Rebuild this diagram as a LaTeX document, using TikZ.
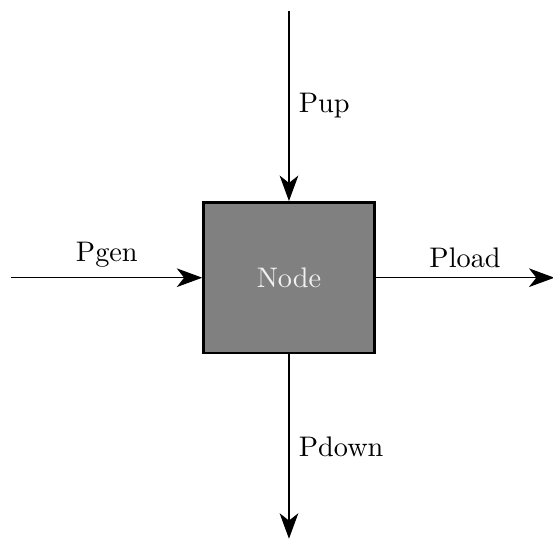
\documentclass[tikz,border=0pt]{standalone}
\usepackage{tikz}
\usetikzlibrary{positioning, arrows.meta}

\begin{document}
\begin{tikzpicture}[flow/.style={-{Stealth[length=9pt, width=6.6pt, inset=2.6pt]}}]
	\useasboundingbox (-3.59,-3.27) rectangle (3.28,3.45);
	\node[draw, line width=1pt, fill=gray, text=white!88!gray, minimum width=2.12cm, minimum height=1.87cm] (bus) at (0,0) {Node};
	\coordinate[above=2.36cm of bus.north] (top);
	\coordinate[below=2.29cm of bus.south] (bottom);
	\coordinate[left=2.37cm of bus.west] (gen);
	\coordinate[right=2.22cm of bus.east] (load);
	\draw[flow] (top) -- node[right] {Pup} (bus.north);
	\draw[flow] (gen) -- node[above] {Pgen} (bus.west);
	\draw[flow] (bus.east) -- node[above] {Pload} (load);
	\draw[flow] (bus.south) -- node[right] {Pdown} (bottom);
\end{tikzpicture}
\end{document}
